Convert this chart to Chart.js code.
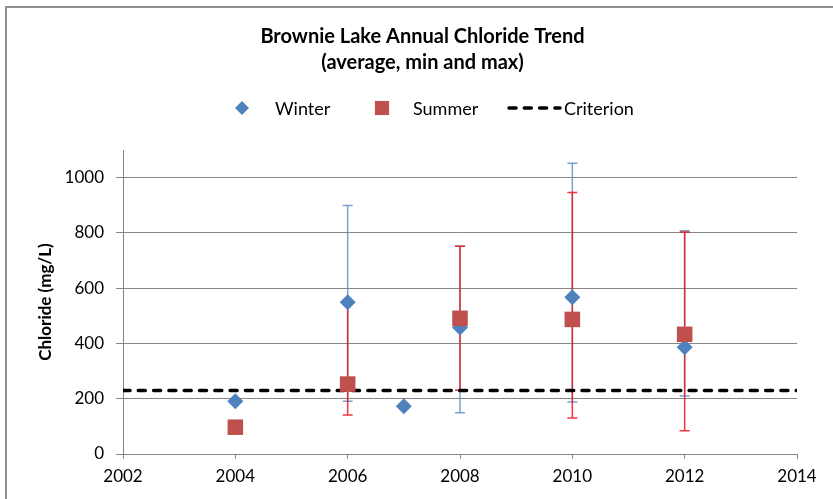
<!DOCTYPE html>
<html>
<head>
<meta charset="utf-8">
<script src="https://cdn.jsdelivr.net/npm/chart.js@4.4.1/dist/chart.umd.min.js"></script>
<style>
  html, body { margin: 0; padding: 0; background: #fff; }
</style>
</head>
<body>
<canvas id="chlorideChart" width="833" height="499"></canvas>
<script>
// winter samples
const winterYears = [2004, 2006, 2007, 2008, 2010, 2012];
const winterAvg = [191, 549, 173, 458, 567, 386];
const winterMin = [null, 191, null, 149, 188, 210];
const winterMax = [null, 899, null, 752, 1052, 808];

// summer samples
const summerYears = [2004, 2006, 2008, 2010, 2012];
const summerAvg = [97, 253, 491, 487, 433];
const summerMin = [null, 141, 231, 130, 84];
const summerMax = [null, 546, 752, 946, 803];

const criterionYears = [2002, 2014];
const criterionValues = [230, 230];

const xTicks = [2002, 2004, 2006, 2008, 2010, 2012, 2014];
const yTicks = [0, 200, 400, 600, 800, 1000];

const toPoints = (xs, ys) => xs.map((x, i) => ({ x: x, y: ys[i] }));

const axisGray = '#868686';
const fontFamily = 'Lato, Calibri, sans-serif';

// min / max bars, drawn under the markers
const errorBars = {
  id: 'errorBars',
  beforeDatasetsDraw(chart) {
    const ctx = chart.ctx;
    const x = chart.scales.x, y = chart.scales.y;
    chart.data.datasets.forEach(ds => {
      if (!ds.errMin) return;
      ctx.save();
      ctx.strokeStyle = ds.errColor;
      ctx.lineWidth = 1.5;
      ds.data.forEach((pt, i) => {
        const lo = ds.errMin[i], hi = ds.errMax[i];
        if (lo == null || hi == null) return;
        const px = x.getPixelForValue(pt.x);
        const top = y.getPixelForValue(hi);
        const bot = y.getPixelForValue(lo);
        ctx.beginPath();
        ctx.moveTo(px, top); ctx.lineTo(px, bot);
        ctx.moveTo(px - 5, top); ctx.lineTo(px + 5, top);
        ctx.moveTo(px - 5, bot); ctx.lineTo(px + 5, bot);
        ctx.stroke();
      });
      ctx.restore();
    });
  }
};

// outer frame like the spreadsheet chart box
const frame = {
  id: 'frame',
  beforeDraw(chart) {
    const ctx = chart.ctx;
    ctx.save();
    ctx.fillStyle = '#fff';
    ctx.fillRect(0, 0, chart.width, chart.height);
    ctx.strokeStyle = '#8f8f8f';
    ctx.lineWidth = 2;
    ctx.strokeRect(6, 7, chart.width + 20, chart.height + 20);
    ctx.restore();
  }
};

// legend in the excel layout (marker, gap, label)
const legendRow = {
  id: 'legendRow',
  afterDraw(chart) {
    const ctx = chart.ctx;
    const ds = chart.data.datasets;
    const y = 108;
    ctx.save();
    ctx.font = '18px ' + fontFamily;
    ctx.textBaseline = 'middle';

    ctx.fillStyle = ds[0].backgroundColor;
    Chart.helpers.drawPoint(ctx, { pointStyle: 'rectRot', radius: 7, borderWidth: 0 }, 242, y);
    ctx.fillStyle = '#000';
    ctx.fillText(ds[0].label, 275, y + 1);

    ctx.fillStyle = ds[1].backgroundColor;
    Chart.helpers.drawPoint(ctx, { pointStyle: 'rect', radius: 10, borderWidth: 0 }, 382, y);
    ctx.fillStyle = '#000';
    ctx.fillText(ds[1].label, 413, y + 1);

    ctx.strokeStyle = ds[2].borderColor;
    ctx.lineWidth = 3.5;
    ctx.lineCap = 'round';
    ctx.setLineDash([7, 8.3]);
    ctx.beginPath();
    ctx.moveTo(509, y); ctx.lineTo(560, y);
    ctx.stroke();
    ctx.setLineDash([]);
    ctx.fillStyle = '#000';
    ctx.fillText(ds[2].label, 564, y + 1);
    ctx.restore();
  }
};

new Chart(document.getElementById('chlorideChart'), {
  type: 'scatter',
  data: {
    datasets: [{
      label: 'Winter',
      data: toPoints(winterYears, winterAvg),
      errMin: winterMin,
      errMax: winterMax,
      errColor: 'rgba(79,129,189,0.75)',
      backgroundColor: '#4F81BD',
      borderWidth: 0,
      pointStyle: 'rectRot',
      pointRadius: 8,
      order: 1
    }, {
      label: 'Summer',
      data: toPoints(summerYears, summerAvg),
      errMin: summerMin,
      errMax: summerMax,
      errColor: 'rgba(235,20,30,0.85)',
      backgroundColor: '#C0504D',
      borderWidth: 0,
      pointStyle: 'rect',
      pointRadius: 11,
      order: 0
    }, {
      type: 'line',
      label: 'Criterion',
      data: toPoints(criterionYears, criterionValues),
      borderColor: '#000',
      borderWidth: 3.5,
      borderDash: [7, 8.3],
      borderCapStyle: 'round',
      pointRadius: 0,
      fill: false,
      order: 2
    }]
  },
  options: {
    responsive: false,
    animation: false,
    // left padding wider so the title centres where the original does
    layout: { padding: { left: 48, right: 36, top: 0, bottom: 4 } },
    plugins: {
      legend: { display: false },
      tooltip: { enabled: false },
      title: {
        display: true,
        text: ['Brownie Lake Annual Chloride Trend', '(average, min and max)'],
        color: '#000',
        font: { family: fontFamily, size: 20, weight: 'bold', lineHeight: 1.3 },
        padding: { top: 24, bottom: 74 }
      }
    },
    scales: {
      x: {
        type: 'linear',
        min: 2002,
        max: 2014,
        afterBuildTicks: s => { s.ticks = xTicks.map(v => ({ value: v })); },
        afterFit: s => { s.height = 41; },
        grid: { drawOnChartArea: false, color: axisGray, tickLength: 5 },
        border: { color: axisGray },
        ticks: { color: '#000', padding: 7, font: { family: fontFamily, size: 17 }, callback: v => String(v) }
      },
      y: {
        min: 0,
        max: 1100,
        afterBuildTicks: s => { s.ticks = yTicks.map(v => ({ value: v })); },
        afterFit: s => { s.width = 75; },
        grid: { color: axisGray, tickLength: 7 },
        border: { color: axisGray },
        ticks: { color: '#000', padding: 12, font: { family: fontFamily, size: 17 }, callback: v => String(v) },
        title: {
          display: true,
          text: 'Chloride (mg/L)',
          color: '#000',
          font: { family: fontFamily, size: 17, weight: 'bold' },
          padding: { top: -13, bottom: 0 }
        }
      }
    }
  },
  plugins: [frame, errorBars, legendRow]
});
</script>
</body>
</html>
